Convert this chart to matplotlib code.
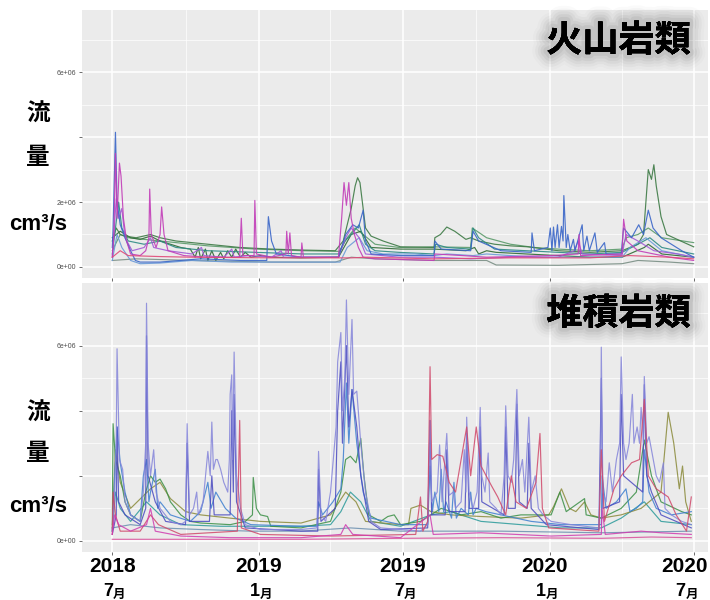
import numpy as np
import matplotlib.pyplot as plt
import matplotlib.patheffects as pe
from matplotlib.transforms import blended_transform_factory

plt.rcParams['font.family'] = ['Liberation Sans', 'Noto Sans CJK JP', 'DejaVu Sans']

START = np.datetime64("2018-07-01")

# series are (days since 2018-07-01, flow in 1e6 cm3/s)
# --- 火山岩類 (volcanic) ---
volc_green1 = [(0, 0.8), (5, 1.2), (10, 1.0), (16, 0.95), (30, 0.9), (48, 1.0), (60, 0.9), (80, 0.8),
               (120, 0.7), (160, 0.6), (200, 0.55), (240, 0.52), (280, 0.5), (290, 0.8), (300, 1.8),
               (305, 2.5), (308, 2.75), (311, 2.6), (315, 1.8), (318, 1.2), (325, 0.95), (340, 0.8),
               (362, 0.62), (404, 0.6), (405, 0.9), (412, 1.0), (420, 1.23), (430, 1.1), (444, 0.85),
               (450, 0.9), (460, 0.8), (480, 0.7), (500, 0.65), (522, 0.62), (560, 0.5), (600, 0.45),
               (640, 0.5), (660, 0.7), (667, 1.0), (670, 2.0), (673, 3.0), (677, 2.7), (680, 3.15),
               (683, 2.5), (689, 1.55), (696, 1.0), (711, 0.83), (730, 0.62)]
volc_green2 = [(0, 0.5), (10, 1.0), (20, 0.9), (40, 0.85), (80, 0.75), (120, 0.65), (180, 0.55),
               (240, 0.5), (285, 0.48), (295, 0.9), (305, 1.2), (315, 1.0), (330, 0.7), (360, 0.6),
               (404, 0.62), (450, 0.6), (452, 1.2), (458, 1.1), (470, 0.9), (500, 0.7), (530, 0.6),
               (560, 0.55), (600, 0.5), (640, 0.55), (645, 0.9), (660, 1.0), (673, 1.2), (690, 0.9),
               (730, 0.75)]
volc_darkgreen = [(0, 0.9), (10, 1.1), (23, 0.9), (35, 0.85), (48, 0.95), (60, 0.8), (73, 0.7),
                  (86, 0.6), (98, 0.55), (104, 0.3), (108, 0.6), (111, 0.25), (117, 0.55), (120, 0.2),
                  (125, 0.5), (130, 0.2), (136, 0.45), (140, 0.25), (145, 0.5), (150, 0.3), (155, 0.55),
                  (161, 0.3), (167, 0.45), (174, 0.3), (186, 0.35), (200, 0.3), (237, 0.28), (284, 0.3),
                  (300, 1.0), (312, 1.1), (325, 0.6), (362, 0.55), (404, 0.55), (444, 0.5), (455, 0.6),
                  (460, 0.4), (470, 0.5), (482, 0.45), (520, 0.4), (560, 0.35), (600, 0.3), (640, 0.3),
                  (668, 0.6), (673, 0.7), (690, 0.4), (730, 0.3)]
volc_teal = [(0, 0.4), (8, 2.0), (12, 1.2), (20, 0.8), (40, 0.7), (60, 0.8), (80, 0.6), (120, 0.5),
             (180, 0.45), (240, 0.4), (284, 0.4), (292, 0.8), (300, 1.0), (310, 1.3), (318, 0.7),
             (330, 0.5), (360, 0.45), (404, 0.4), (406, 0.7), (420, 0.6), (450, 0.55), (453, 1.2),
             (460, 0.9), (480, 0.55), (520, 0.5), (560, 0.45), (600, 0.4), (640, 0.45), (660, 0.7),
             (675, 0.9), (690, 0.6), (730, 0.4)]
volc_grey = [(0, 0.2), (30, 0.25), (100, 0.2), (200, 0.15), (280, 0.15), (300, 0.3), (330, 0.25),
             (404, 0.2), (470, 0.2), (482, 0.06), (560, 0.05), (640, 0.1), (660, 0.2), (700, 0.15),
             (730, 0.1)]
volc_lightblue = [(0, 0.2), (6, 1.0), (12, 0.6), (23, 0.2), (35, 0.1), (60, 0.12), (100, 0.2),
                  (150, 0.15), (200, 0.15), (286, 0.15), (295, 0.6), (310, 0.9), (320, 0.5),
                  (340, 0.4), (380, 0.4), (404, 0.35), (420, 0.4), (453, 0.35), (470, 0.4),
                  (500, 0.35), (540, 0.3), (600, 0.3), (640, 0.3), (650, 0.6), (670, 0.9),
                  (690, 0.5), (730, 0.3)]
volc_violet = [(0, 0.3), (5, 2.1), (8, 1.5), (12, 1.8), (16, 0.9), (25, 0.5), (40, 0.6), (48, 0.9),
               (52, 0.6), (70, 0.5), (100, 0.4), (112, 0.6), (115, 0.35), (140, 0.3), (150, 0.55),
               (153, 0.3), (170, 0.35), (200, 0.3), (212, 0.5), (215, 0.3), (230, 0.3),
               (284, 0.3), (293, 0.9), (300, 1.2), (310, 0.9), (318, 0.4), (360, 0.3), (405, 0.3),
               (450, 0.25), (500, 0.3), (560, 0.3), (580, 0.5), (585, 0.8), (590, 0.4), (640, 0.35),
               (645, 1.0), (660, 0.8), (680, 0.5), (710, 0.4), (730, 0.3)]
volc_blue = [(0, 0.6), (1, 1.2), (4, 4.15), (6, 2.0), (10, 1.3), (16, 0.9), (23, 0.5), (29, 0.2),
             (35, 0.15), (60, 0.15), (111, 0.25), (161, 0.2), (194, 0.2), (196, 1.55), (200, 0.8),
             (206, 0.4), (237, 0.3), (284, 0.3), (293, 1.0), (302, 1.3), (309, 1.2), (315, 1.75),
             (318, 0.8), (325, 0.4), (362, 0.35), (404, 0.35), (405, 0.8), (413, 0.55), (450, 0.5),
             (453, 1.1), (460, 0.8), (488, 0.5), (526, 0.45), (527, 1.05), (530, 0.5), (547, 0.6),
             (550, 1.2), (552, 0.5), (554, 1.23), (556, 0.6), (559, 1.3), (561, 0.6), (564, 1.25),
             (566, 0.8), (567, 2.2), (570, 0.6), (572, 1.0), (575, 0.5), (579, 0.85), (581, 0.5),
             (590, 1.3), (592, 0.5), (596, 0.95), (599, 0.5), (606, 1.05), (609, 0.45), (618, 0.75),
             (620, 0.4), (639, 0.4), (642, 1.2), (652, 0.9), (661, 1.3), (667, 1.0), (673, 1.75),
             (679, 1.2), (689, 0.9), (715, 0.5), (730, 0.3)]
volc_magenta = [(0, 0.3), (2, 1.0), (4, 3.5), (6, 1.5), (9, 3.2), (11, 2.8), (14, 1.5), (18, 0.8),
                (23, 0.4), (35, 0.35), (42, 0.5), (46, 0.9), (47, 2.4), (49, 1.0), (52, 0.8),
                (55, 0.6), (60, 1.0), (62, 1.85), (65, 1.0), (70, 0.5), (90, 0.35), (120, 0.3),
                (160, 0.3), (162, 1.5), (164, 0.35), (178, 0.35), (179, 2.05), (181, 0.4), (200, 0.3),
                (218, 0.4), (219, 1.1), (221, 0.4), (223, 1.05), (225, 0.35), (237, 0.3), (238, 0.74),
                (240, 0.3), (284, 0.3), (288, 1.5), (291, 2.6), (294, 1.9), (297, 2.6), (300, 1.5),
                (304, 1.0), (309, 0.6), (315, 0.3), (330, 0.25), (404, 0.2), (405, 0.4), (440, 0.35),
                (470, 0.3), (550, 0.35), (585, 0.4), (586, 1.0), (588, 0.35), (640, 0.4), (642, 1.47),
                (646, 0.8), (660, 0.5), (700, 0.3), (730, 0.2)]
volc_pink = [(0, 0.3), (10, 0.5), (20, 0.35), (60, 0.32), (100, 0.3), (200, 0.28), (300, 0.28),
             (320, 0.3), (404, 0.25), (500, 0.28), (600, 0.28), (650, 0.35), (700, 0.3), (730, 0.25)]

# --- 堆積岩類 (sedimentary) ---
sed_slate = [(0, 0.4), (23, 0.5), (60, 0.4), (111, 0.35), (174, 0.3), (237, 0.3), (299, 0.4),
             (362, 0.3), (488, 0.3), (614, 0.25), (727, 0.3)]
sed_teal = [(0, 0.3), (4, 1.5), (10, 1.0), (23, 0.6), (43, 1.2), (60, 0.8), (86, 0.5), (136, 0.45),
            (186, 0.45), (237, 0.45), (274, 0.5), (287, 0.9), (299, 1.5), (312, 1.2), (325, 0.6),
            (362, 0.45), (400, 0.8), (425, 0.9), (463, 0.6), (513, 0.5), (564, 0.4), (614, 0.4),
            (639, 0.7), (668, 1.2), (689, 0.6), (727, 0.5)]
sed_olive = [(0, 0.4), (4, 2.8), (10, 1.8), (23, 1.0), (48, 1.6), (60, 1.8), (73, 1.3), (92, 0.9),
             (111, 0.8), (148, 0.7), (186, 0.6), (237, 0.55), (274, 0.8), (293, 1.5), (306, 1.2),
             (318, 0.6), (362, 0.5), (372, 0.5), (375, 1.0), (387, 1.1), (400, 0.9), (425, 0.8),
             (463, 0.75), (513, 0.7), (548, 0.8), (554, 1.05), (564, 1.6), (574, 1.0), (582, 0.9),
             (593, 1.2), (601, 0.8), (614, 0.7), (639, 0.8), (664, 1.0), (689, 1.5), (698, 3.95),
             (705, 3.0), (712, 1.6), (716, 2.3), (720, 1.2), (727, 0.6)]
sed_green = [(0, 0.5), (1, 3.6), (4, 2.5), (10, 2.0), (16, 1.2), (23, 0.8), (35, 0.6), (42, 1.5),
             (48, 2.0), (54, 1.8), (60, 1.9), (67, 1.6), (73, 1.2), (86, 0.8), (98, 0.6), (111, 0.55),
             (148, 0.5), (167, 0.6), (176, 0.8), (177, 1.95), (181, 1.0), (186, 0.8), (195, 0.75),
             (199, 0.45), (237, 0.4), (274, 0.6), (287, 1.5), (293, 2.5), (299, 2.6), (306, 2.4),
             (312, 3.15), (316, 2.0), (322, 0.8), (337, 0.6), (346, 0.75), (354, 0.8), (362, 0.5),
             (387, 0.6), (413, 1.0), (438, 0.8), (463, 0.9), (488, 0.7), (513, 0.8), (551, 0.8),
             (562, 1.5), (570, 0.9), (593, 1.3), (595, 0.8), (614, 0.7), (639, 1.0), (658, 1.5),
             (668, 3.1), (677, 2.0), (689, 1.2), (715, 0.9), (727, 0.8)]
sed_blue = [(0, 0.3), (3, 2.0), (6, 3.5), (10, 2.4), (16, 1.5), (23, 0.8), (35, 0.6), (39, 2.0),
            (43, 2.5), (46, 1.2), (48, 1.5), (54, 2.2), (57, 1.0), (60, 1.2), (73, 0.8), (98, 0.6),
            (111, 0.9), (120, 1.8), (124, 1.0), (130, 1.5), (142, 1.0), (155, 0.7), (174, 0.5),
            (237, 0.45), (257, 0.45), (259, 1.2), (264, 0.8), (277, 1.2), (287, 1.6), (290, 2.5),
            (294, 4.85), (297, 3.0), (301, 4.65), (307, 3.0), (315, 1.5), (325, 0.7), (362, 0.5),
            (396, 0.5), (399, 2.3), (402, 0.9), (405, 1.5), (410, 0.9), (413, 2.2), (416, 0.9),
            (419, 1.2), (426, 0.7), (429, 1.8), (432, 0.7), (438, 1.0), (447, 0.8), (450, 1.5),
            (453, 0.8), (457, 1.0), (469, 0.9), (488, 0.8), (526, 0.6), (564, 0.5), (614, 0.5),
            (615, 2.0), (620, 1.0), (633, 1.2), (645, 1.6), (650, 0.9), (658, 1.0), (666, 1.2),
            (668, 2.8), (674, 1.5), (683, 1.0), (702, 0.8), (727, 0.9)]
sed_lavender = [(0, 0.3), (3, 1.5), (5, 3.0), (6, 5.9), (9, 2.5), (13, 2.2), (16, 1.2), (23, 0.8),
                (35, 0.6), (39, 1.5), (42, 3.0), (43, 7.3), (45, 3.0), (48, 2.0), (52, 2.8), (55, 1.5),
                (60, 1.0), (73, 0.6), (86, 0.5), (92, 0.6), (94, 3.6), (97, 0.8), (102, 1.0),
                (106, 1.5), (108, 0.8), (114, 1.2), (120, 2.75), (123, 2.0), (125, 3.65), (127, 2.2),
                (130, 2.5), (132, 2.5), (136, 2.2), (140, 1.8), (145, 1.5), (147, 2.5), (148, 4.5),
                (150, 5.1), (151, 2.5), (153, 5.8), (156, 2.0), (161, 1.0), (167, 0.5), (186, 0.35),
                (237, 0.35), (257, 0.4), (259, 2.75), (262, 0.8), (268, 0.6), (274, 1.5), (281, 3.5),
                (283, 5.5), (287, 6.4), (289, 4.0), (292, 5.0), (294, 7.4), (297, 4.5), (301, 6.8),
                (303, 4.5), (307, 4.6), (312, 3.0), (318, 1.5), (325, 0.6), (337, 0.4), (387, 0.3),
                (396, 0.5), (399, 3.7), (401, 1.2), (408, 1.5), (411, 2.95), (414, 1.2), (420, 3.3),
                (423, 1.4), (428, 1.5), (431, 1.0), (438, 1.2), (442, 2.8), (444, 1.5), (445, 3.8),
                (448, 1.5), (453, 1.0), (458, 1.5), (462, 4.1), (464, 2.0), (468, 1.5), (472, 2.7),
                (474, 1.2), (482, 1.0), (488, 0.8), (492, 2.0), (494, 4.15), (497, 2.0), (501, 1.8),
                (504, 2.5), (508, 4.65), (511, 2.0), (515, 2.5), (518, 1.5), (523, 3.8), (526, 1.5),
                (531, 2.0), (535, 1.0), (541, 0.8), (551, 0.6), (576, 0.5), (611, 0.4), (613, 2.0),
                (614, 5.95), (616, 1.5), (620, 1.2), (624, 2.4), (628, 1.5), (633, 2.5), (637, 3.0),
                (639, 5.65), (642, 3.0), (645, 2.5), (649, 3.0), (653, 4.5), (655, 3.0), (659, 3.5),
                (662, 3.0), (664, 4.1), (667, 3.0), (668, 5.05), (671, 3.0), (674, 3.2), (677, 2.8),
                (683, 2.0), (687, 1.8), (692, 2.4), (694, 1.0), (702, 0.8), (715, 0.6), (727, 0.5)]
sed_darkblue = [(0, 0.2), (5, 0.8), (6, 3.5), (8, 1.2), (16, 0.8), (35, 0.5), (42, 1.0), (43, 6.3),
                (45, 2.0), (54, 1.2), (67, 0.6), (92, 0.5), (94, 3.0), (97, 0.6), (122, 0.6),
                (125, 2.0), (128, 0.8), (148, 0.8), (150, 4.0), (152, 1.5), (153, 4.5), (156, 1.2),
                (167, 0.4), (237, 0.3), (258, 0.3), (259, 2.2), (262, 0.6), (280, 1.0), (283, 4.0),
                (287, 5.5), (289, 3.0), (294, 6.0), (297, 3.5), (301, 4.65), (307, 3.5), (312, 2.0),
                (322, 0.6), (337, 0.35), (396, 0.4), (399, 3.7), (401, 0.8), (418, 0.8), (420, 2.8),
                (423, 0.9), (443, 0.9), (445, 3.3), (448, 1.0), (460, 1.0), (462, 3.5), (464, 1.2),
                (492, 0.8), (494, 3.5), (497, 1.0), (506, 1.0), (508, 4.2), (511, 1.2), (521, 1.0),
                (523, 3.0), (526, 1.0), (545, 0.5), (611, 0.35), (614, 5.0), (616, 1.0), (637, 1.2),
                (639, 4.5), (642, 2.0), (666, 1.5), (668, 4.8), (671, 2.0), (677, 1.5), (689, 0.8),
                (727, 0.4)]
sed_crimson = [(0, 0.2), (1, 1.5), (4, 0.8), (10, 0.3), (35, 0.3), (48, 0.8), (58, 0.5), (86, 0.2),
               (157, 0.3), (160, 3.7), (162, 0.4), (186, 0.2), (274, 0.15), (381, 0.2), (387, 1.35),
               (390, 0.3), (396, 0.6), (399, 5.35), (401, 2.5), (408, 2.65), (415, 2.6), (423, 1.8),
               (431, 1.5), (445, 3.5), (450, 2.0), (457, 3.5), (463, 2.3), (476, 1.7), (484, 1.35),
               (494, 0.8), (501, 2.0), (507, 1.2), (520, 1.0), (532, 1.8), (537, 3.3), (540, 1.0),
               (548, 0.4), (611, 0.3), (614, 2.8), (618, 0.6), (630, 1.6), (639, 2.0), (652, 2.4),
               (662, 2.5), (668, 4.35), (673, 2.0), (683, 1.6), (698, 1.35), (708, 0.8), (721, 0.3),
               (727, 1.35)]
sed_magenta = [(0, 0.2), (3, 0.8), (8, 0.5), (23, 0.3), (43, 0.5), (48, 1.0), (54, 0.3), (86, 0.15),
               (148, 0.1), (237, 0.1), (287, 0.2), (293, 0.5), (302, 0.2), (362, 0.1), (399, 0.8),
               (403, 0.2), (463, 0.25), (551, 0.15), (614, 0.2), (615, 1.0), (619, 0.2), (664, 0.3),
               (689, 0.25), (727, 0.2)]
sed_pink = [(0, 0.05), (111, 0.05), (237, 0.05), (362, 0.08), (488, 0.1), (614, 0.08), (677, 0.12),
            (727, 0.1)]

volcanic = [(volc_grey, "#7a8f85"), (volc_green2, "#5a9a6a"), (volc_darkgreen, "#2f6a35"),
            (volc_green1, "#3d7a45"), (volc_teal, "#2e8b85"), (volc_lightblue, "#6a9ad8"),
            (volc_violet, "#a15ad6"), (volc_blue, "#3a66c8"), (volc_magenta, "#c23db8"),
            (volc_pink, "#e04a78")]
sedimentary = [(sed_slate, "#6b8fb0"), (sed_teal, "#2a9a9a"), (sed_olive, "#8a8a3a"),
               (sed_green, "#3a8f45"), (sed_blue, "#3d7fd0"), (sed_darkblue, "#4a4ac0"),
               (sed_lavender, "#8585da"), (sed_crimson, "#d0486a"), (sed_magenta, "#d03cb0"),
               (sed_pink, "#d94f9a")]

major_dates = np.array(["2018-07-01", "2019-01-01", "2019-07-01", "2020-01-01", "2020-07-01"],
                       dtype="datetime64[D]")
minor_dates = np.array(["2018-10-01", "2019-04-01", "2019-10-01", "2020-04-01"],
                       dtype="datetime64[D]")
year_labels = ["2018", "2019", "2019", "2020", "2020"]
month_labels = ["7", "1", "7", "1", "7"]


def to_xy(pts):
    days = np.array([p[0] for p in pts])
    vals = np.array([p[1] for p in pts]) * 1e6
    return START + days.astype("timedelta64[D]"), vals


def setup_panel(ax, ylabels):
    ax.set_facecolor("#EBEBEB")
    for s in ax.spines.values():
        s.set_visible(False)
    ax.set_xlim(START - np.timedelta64(38, "D"), START + np.timedelta64(748, "D"))
    ax.set_ylim(-0.34e6, 7.92e6)
    ax.set_yticks([0, 2e6, 4e6, 6e6])
    ax.set_yticklabels(ylabels)
    ax.set_yticks([1e6, 3e6, 5e6, 7e6], minor=True)
    ax.set_xticks(major_dates)
    ax.set_xticks(minor_dates, minor=True)
    ax.grid(which="major", color="white", lw=1.1)
    ax.grid(which="minor", color="white", lw=0.5)
    ax.set_axisbelow(True)
    ax.tick_params(which="minor", length=0)
    ax.tick_params(which="major", length=2.5, width=0.5, color="#333333",
                   labelsize=5, labelcolor="#4D4D4D", pad=1.5)
    ax.tick_params(axis="x", labelbottom=False)


fig = plt.figure(figsize=(7.1, 6.0), dpi=100)
ax1 = fig.add_axes([0.1155, 0.5367, 0.8817, 0.4467])
ax2 = fig.add_axes([0.1155, 0.0800, 0.8817, 0.4483])

setup_panel(ax1, ["0e+00", "2e+06", "", "6e+06"])
setup_panel(ax2, ["0e+00", "", "", "6e+06"])

for pts, col in volcanic:
    x, y = to_xy(pts)
    ax1.plot(x, y, color=col, lw=0.85, alpha=0.9)
for pts, col in sedimentary:
    x, y = to_xy(pts)
    ax2.plot(x, y, color=col, lw=0.85, alpha=0.85)

# panel titles with a soft grey glow
glow = [pe.withStroke(linewidth=w, foreground="#202020", alpha=a)
        for w, a in [(22, 0.02), (18, 0.03), (14, 0.04), (10, 0.05), (6, 0.06)]] + [pe.Normal()]
for ax, title in [(ax1, "火山岩類"), (ax2, "堆積岩類")]:
    ax.text(0.857, 0.885, title, transform=ax.transAxes, ha="center", va="center",
            fontsize=26, fontweight="bold", family=["Noto Sans CJK JP"], path_effects=glow)

# y axis captions
for ys in [(114, 157, 225), (413, 453, 507)]:
    fig.text(38 / 710, 1 - ys[0] / 600, "流", ha="center", va="center", fontsize=17,
             fontweight="bold", family=["Noto Sans CJK JP"])
    fig.text(38 / 710, 1 - ys[1] / 600, "量", ha="center", va="center", fontsize=17,
             fontweight="bold", family=["Noto Sans CJK JP"])
    fig.text(38 / 710, 1 - ys[2] / 600, "cm³/s", ha="center", va="center", fontsize=16,
             fontweight="bold")

# date labels under the lower panel
tr = blended_transform_factory(ax2.transData, fig.transFigure)
shift = [0, 0, 0, -6, -12]
for d, yr, mo, sh in zip(major_dates, year_labels, month_labels, shift):
    xd = d + np.timedelta64(sh, "D")
    ax2.text(xd, 1 - 567 / 600, yr, transform=tr, ha="center", va="center",
             fontsize=15, fontweight="bold")
    ax2.text(xd + np.timedelta64(1, "D"), 1 - 592 / 600, mo, transform=tr, ha="right",
             va="center", fontsize=13, fontweight="bold")
    ax2.text(xd + np.timedelta64(1, "D"), 1 - 594 / 600, "月", transform=tr, ha="left",
             va="center", fontsize=9, fontweight="bold", family=["Noto Sans CJK JP"])

fig.savefig("out.png", dpi=100)
